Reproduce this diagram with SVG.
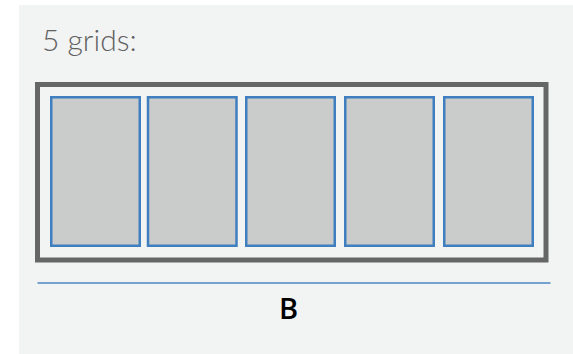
<svg xmlns="http://www.w3.org/2000/svg" width="573" height="354" viewBox="0 0 573 354">
<style>
.cell{fill:#cacbcb;stroke:#3f7fc0;stroke-width:2.5}
.title{font-family:Lato,"Open Sans",sans-serif;font-weight:300;font-size:30px;fill:#606060}
.lbl{font-family:"Open Sans","Noto Sans",sans-serif;font-weight:600;font-size:29px;fill:#000}
</style>
<rect x="0" y="0" width="573" height="354" fill="#ffffff"/>
<rect x="19" y="5" width="554" height="349" fill="#f2f3f3"/>
<text class="title" x="42" y="51">5 grids:</text>
<g id="frame"><rect x="37.5" y="84.5" width="508.5" height="175.5" fill="none" stroke="#666" stroke-width="5"/></g>
<g id="grid1"><rect class="cell" x="51.25" y="97.25" width="88.5" height="148.5"/></g>
<g id="grid2"><rect class="cell" x="148" y="97.25" width="88.5" height="148.5"/></g>
<g id="grid3"><rect class="cell" x="246.25" y="97.25" width="88.5" height="148.5"/></g>
<g id="grid4"><rect class="cell" x="345.25" y="97.25" width="88.5" height="148.5"/></g>
<g id="grid5"><rect class="cell" x="444.25" y="97.25" width="88.5" height="148.5"/></g>
<g id="connectors"><line x1="37.5" y1="283" x2="550.5" y2="283" stroke="#4a86c5" stroke-width="1.3"/></g>
<text class="lbl" x="288.5" y="319" text-anchor="middle">B</text>
</svg>
